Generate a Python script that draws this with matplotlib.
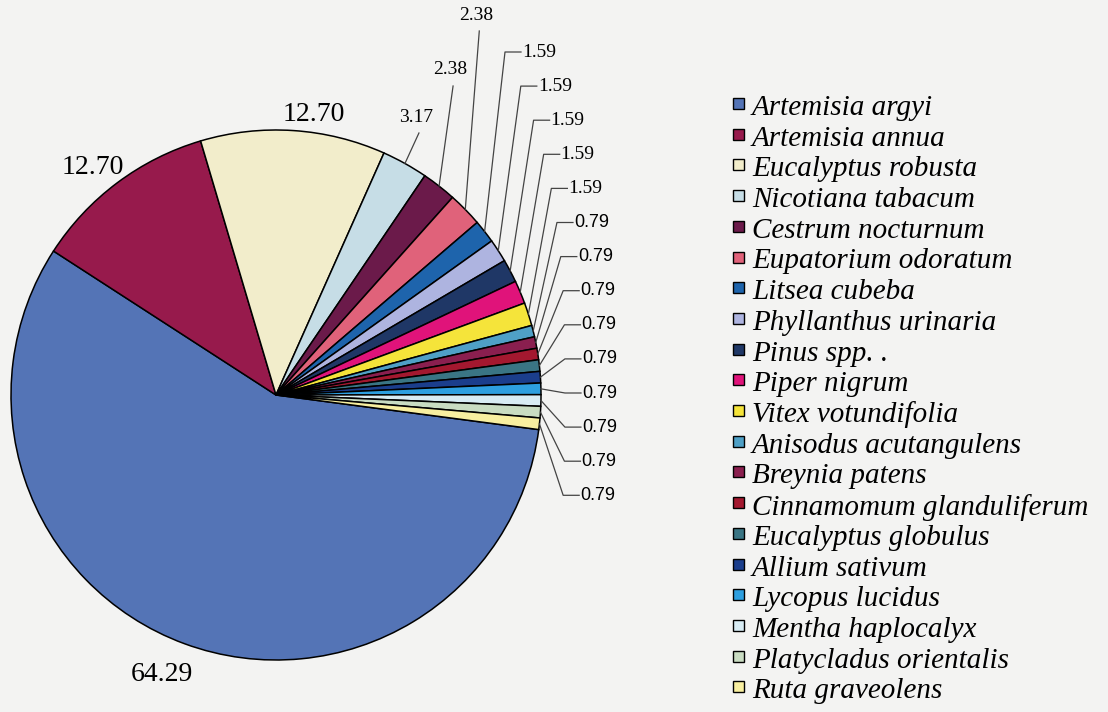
import matplotlib
matplotlib.use("Agg")
import matplotlib.pyplot as plt
from matplotlib.patches import Rectangle
import numpy as np

species = [
    "Artemisia argyi", "Artemisia annua", "Eucalyptus robusta",
    "Nicotiana tabacum", "Cestrum nocturnum", "Eupatorium odoratum",
    "Litsea cubeba", "Phyllanthus urinaria", "Pinus spp. .",
    "Piper nigrum", "Vitex votundifolia", "Anisodus acutangulens",
    "Breynia patens", "Cinnamomum glanduliferum", "Eucalyptus globulus",
    "Allium sativum", "Lycopus lucidus", "Mentha haplocalyx",
    "Platycladus orientalis", "Ruta graveolens",
]
shares = [64.29, 12.70, 12.70, 3.17, 2.38, 2.38,
          1.59, 1.59, 1.59, 1.59, 1.59,
          0.79, 0.79, 0.79, 0.79, 0.79, 0.79, 0.79, 0.79, 0.79]
colors = [
    "#5474b6", "#971a4c", "#f2edcb", "#c6dde6", "#6b1a4a", "#e0627a",
    "#1e64ac", "#aeb4e0", "#1f3766", "#e0137a", "#f5e43a", "#4fa0c6",
    "#8a1f4f", "#a3182f", "#3a7584", "#1b3e8c", "#2d9fe0", "#d8ecf4",
    "#c9dcc2", "#f8efa0",
]

BG = "#f3f3f2"
W, H = 1108, 712
CX, CY, R = 276, 395, 265      # pie centre and radius, pixels
START = -7.5                   # first wedge starts just below 3 o'clock


def px(x, y):
    """pixel position -> data coords of the pie axes"""
    return (x - CX) / R, (CY - y) / R


fig = plt.figure(figsize=(W / 100, H / 100), dpi=100, facecolor=BG)
ax = fig.add_axes([0, 0, 1, 1])
ax.set_facecolor(BG)

ax.pie(shares, colors=colors, startangle=START, counterclock=False,
       radius=1.0, center=(0, 0),
       wedgeprops=dict(edgecolor="black", linewidth=1.1))
ax.set_xlim(-CX / R, (W - CX) / R)
ax.set_ylim(-(H - CY) / R, CY / R)
ax.axis("off")

vals = np.array(shares)
edges = START - np.concatenate([[0], np.cumsum(vals) / vals.sum()]) * 360
mids = np.deg2rad((edges[:-1] + edges[1:]) / 2)

serif = "Liberation Serif"
line_kw = dict(color="#444444", lw=0.9)

# ---- the three big wedges: plain labels outside the rim ----
big_pos = [(1.14, -2), (1.10, 2), (1.07, -4)]   # (radius, angle tweak deg)
for i, (r, dth) in enumerate(big_pos):
    a = mids[i] + np.deg2rad(dth)
    ax.text(r * np.cos(a), r * np.sin(a), f"{shares[i]:.2f}",
            ha="center", va="center", fontsize=20, family=serif)

# ---- next three: labels stacked above, near-vertical leaders ----
upper_y = [117, 70, 15]
for i, yy in zip(range(3, 6), upper_y):
    ex, ey = np.cos(mids[i]), np.sin(mids[i])
    _, ly = px(0, yy)
    ax.plot([ex, ex + 14 / R], [ey, ly - 16 / R], **line_kw)
    ax.text(ex + 11 / R, ly, f"{shares[i]:.2f}", ha="center", va="center",
            fontsize=14, family=serif)

# ---- small wedges: column of labels with elbow leaders ----
for k, i in enumerate(range(6, len(shares))):
    ypx = 52 + 34.1 * k
    xpx = 582 - 60 * (abs(393 - ypx) / 341) ** 2.9
    ex, ey = np.cos(mids[i]), np.sin(mids[i])
    tx, ty = px(xpx, ypx)
    ax.plot([ex, tx - 17 / R, tx - 1 / R], [ey, ty, ty], **line_kw)
    fam = serif if shares[i] > 1 else "Liberation Sans"
    fs = 14 if shares[i] > 1 else 13
    ax.text(tx, ty, f"{shares[i]:.2f}", ha="left", va="center",
            fontsize=fs, family=fam)

# ---- legend, drawn row by row ----
for j, (name, c) in enumerate(zip(species, colors)):
    ry = 108 + 30.7 * j
    fig.patches.append(Rectangle((733 / W, 1 - (ry + 1) / H), 11 / W, 11 / H,
                                 transform=fig.transFigure, facecolor=c,
                                 edgecolor="black", lw=1.0))
    fig.text(752 / W, 1 - ry / H, name, ha="left", va="center",
             fontsize=21, family=serif, style="italic")

fig.savefig("out.png", dpi=100, facecolor=BG)
